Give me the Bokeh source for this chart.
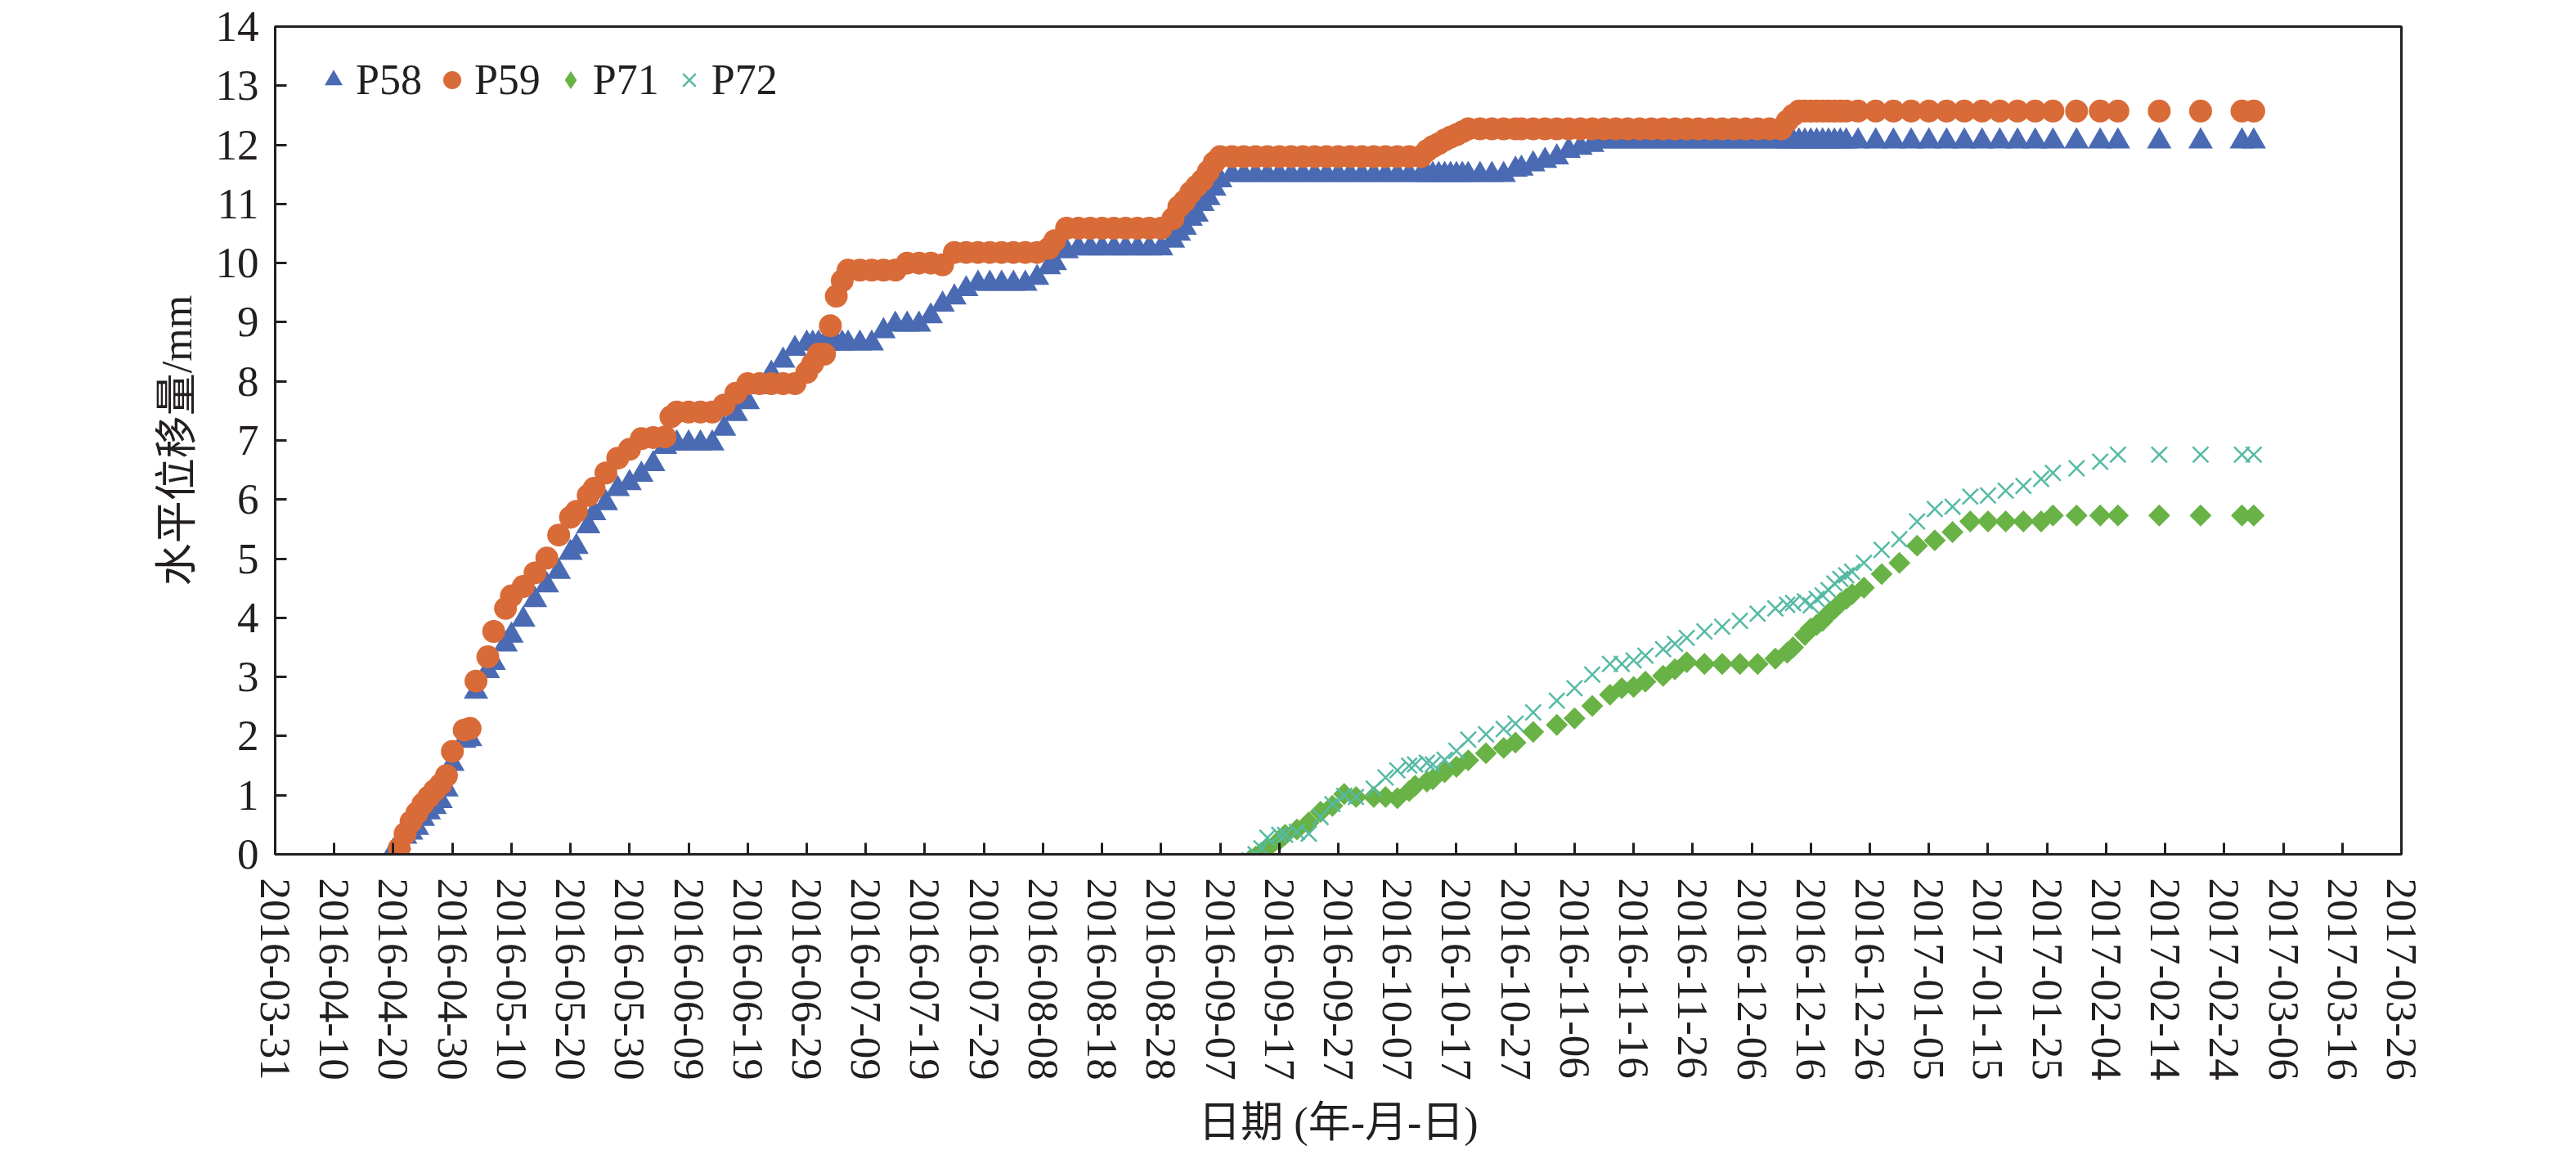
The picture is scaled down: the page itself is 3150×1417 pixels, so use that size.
from datetime import datetime, timedelta
from bokeh.plotting import figure
from bokeh.models import Range1d, FixedTicker, DatetimeTickFormatter, Legend, LegendItem
from bokeh.embed import file_html
from bokeh.resources import INLINE

# ---------------- data (day offsets from 2016-03-31) ----------------
origin = "2016-03-31"
x_end = "2017-03-26"

days_a = [20, 21, 22, 23, 24, 25, 26, 27, 28, 29, 30, 32, 33, 34, 36, 37, 39, 40, 42, 44,
          46, 48, 50, 51, 53, 54, 56, 58, 60, 62, 64, 66, 67, 68, 70, 72, 74, 76, 78, 80,
          82, 84, 86, 88, 90, 91, 92, 93, 94, 95, 96, 97, 99, 101, 103, 105, 107, 109, 111, 113,
          115, 117, 119, 121, 123, 125, 127, 129, 131, 132, 134, 136, 138, 140, 142, 144, 146, 148, 150, 152,
          153, 154, 155, 156, 157, 158, 159, 160, 162, 164, 166, 168, 170, 172, 174, 176, 178, 180, 182, 184,
          186, 188, 190, 192, 194, 195, 196, 197, 198, 199, 200, 201, 202, 204, 206, 208, 210, 211, 213, 215,
          217, 219, 221, 223, 225, 227, 229, 231, 233, 235, 237, 239, 241, 243, 245, 247, 249, 251, 253, 255,
          256, 257, 258, 259, 260, 261, 262, 263, 264, 265, 266, 268, 271, 274, 277, 280, 283, 286, 289, 292,
          295, 298, 301, 305, 309, 312, 319, 326, 333, 335]

p58 = [0.05, 0.20, 0.30, 0.37, 0.45, 0.60, 0.71, 0.80, 0.90, 1.10, 1.53, 1.92, 1.95, 2.75, 3.10, 3.24, 3.55, 3.70, 3.97, 4.30,
       4.55, 4.78, 5.10, 5.20, 5.55, 5.77, 5.94, 6.18, 6.28, 6.42, 6.60, 6.89, 6.95, 6.95, 6.95, 6.95, 6.95, 7.20, 7.45, 7.65,
       7.90, 8.13, 8.35, 8.55, 8.64, 8.64, 8.64, 8.64, 8.64, 8.64, 8.64, 8.64, 8.64, 8.64, 8.85, 8.96, 8.96, 8.96, 9.10, 9.30,
       9.42, 9.56, 9.65, 9.65, 9.65, 9.65, 9.65, 9.75, 9.93, 10.00, 10.20, 10.25, 10.25, 10.25, 10.25, 10.25, 10.25, 10.25, 10.25, 10.38,
       10.50, 10.60, 10.75, 10.82, 11.00, 11.10, 11.26, 11.40, 11.49, 11.49, 11.49, 11.49, 11.49, 11.49, 11.49, 11.49, 11.49, 11.49, 11.49, 11.49,
       11.49, 11.49, 11.49, 11.49, 11.49, 11.49, 11.49, 11.49, 11.49, 11.49, 11.49, 11.49, 11.49, 11.49, 11.49, 11.49, 11.58, 11.60, 11.67, 11.73,
       11.79, 11.90, 11.95, 12.00, 12.06, 12.06, 12.06, 12.06, 12.06, 12.06, 12.06, 12.06, 12.06, 12.06, 12.06, 12.06, 12.06, 12.06, 12.06, 12.06,
       12.06, 12.06, 12.06, 12.06, 12.06, 12.06, 12.06, 12.06, 12.06, 12.06, 12.06, 12.06, 12.06, 12.06, 12.06, 12.06, 12.06, 12.06, 12.06, 12.06,
       12.06, 12.06, 12.06, 12.06, 12.06, 12.06, 12.06, 12.06, 12.06, 12.06]

p59 = [-0.15, 0.10, 0.35, 0.55, 0.70, 0.85, 0.97, 1.08, 1.18, 1.33, 1.74, 2.10, 2.13, 2.93, 3.34, 3.77, 4.16, 4.37, 4.53, 4.76,
       5.01, 5.40, 5.70, 5.80, 6.07, 6.19, 6.45, 6.70, 6.85, 7.03, 7.05, 7.06, 7.40, 7.48, 7.48, 7.48, 7.48, 7.60, 7.80, 7.96,
       7.96, 7.96, 7.96, 7.96, 8.15, 8.30, 8.46, 8.46, 8.94, 9.44, 9.70, 9.88, 9.88, 9.88, 9.88, 9.88, 10.00, 10.00, 10.00, 9.97,
       10.18, 10.18, 10.18, 10.18, 10.18, 10.18, 10.18, 10.18, 10.25, 10.38, 10.59, 10.59, 10.59, 10.59, 10.59, 10.59, 10.59, 10.59, 10.59, 10.75,
       10.95, 11.05, 11.19, 11.30, 11.40, 11.55, 11.70, 11.80, 11.80, 11.80, 11.80, 11.80, 11.80, 11.80, 11.80, 11.80, 11.80, 11.80, 11.80, 11.80,
       11.80, 11.80, 11.80, 11.80, 11.80, 11.90, 11.97, 12.02, 12.08, 12.13, 12.17, 12.22, 12.27, 12.27, 12.27, 12.27, 12.27, 12.27, 12.27, 12.27,
       12.27, 12.27, 12.27, 12.27, 12.27, 12.27, 12.27, 12.27, 12.27, 12.27, 12.27, 12.27, 12.27, 12.27, 12.27, 12.27, 12.27, 12.27, 12.27, 12.27,
       12.40, 12.50, 12.57, 12.57, 12.57, 12.57, 12.57, 12.57, 12.57, 12.57, 12.57, 12.57, 12.57, 12.57, 12.57, 12.57, 12.57, 12.57, 12.57, 12.57,
       12.57, 12.57, 12.57, 12.57, 12.57, 12.57, 12.57, 12.57, 12.57, 12.57]

days_b = [165, 166, 167, 168, 170, 171, 173, 175, 177, 179, 181, 183, 186, 188, 190, 192, 193, 195, 196, 198,
          200, 202, 205, 208, 210, 213, 217, 220, 223, 226, 228, 230, 232, 235, 237, 239, 242, 245, 248, 251,
          254, 256, 257, 259, 260, 261, 262, 263, 264, 265, 266, 267, 269, 272, 275, 278, 281, 284, 287, 290,
          293, 296, 299, 301, 305, 309, 312, 319, 326, 333, 335]

p71 = [-0.10, -0.04, 0.03, 0.10, 0.24, 0.33, 0.42, 0.54, 0.72, 0.82, 1.02, 0.97, 0.97, 0.97, 0.95, 1.07, 1.16, 1.23, 1.27, 1.39,
       1.48, 1.59, 1.71, 1.80, 1.89, 2.07, 2.19, 2.30, 2.51, 2.70, 2.81, 2.83, 2.92, 3.02, 3.13, 3.25, 3.22, 3.22, 3.22, 3.22,
       3.31, 3.41, 3.50, 3.71, 3.82, 3.88, 3.95, 4.07, 4.15, 4.25, 4.32, 4.40, 4.51, 4.74, 4.93, 5.22, 5.31, 5.45, 5.63, 5.63,
       5.63, 5.63, 5.63, 5.73, 5.73, 5.73, 5.73, 5.73, 5.73, 5.73, 5.73]

p72 = [-0.10, 0.00, 0.10, 0.28, 0.33, 0.33, 0.38, 0.35, 0.63, 0.85, 0.99, 0.97, 1.11, 1.30, 1.42, 1.50, 1.52, 1.55, 1.52, 1.60,
       1.75, 1.94, 2.03, 2.12, 2.21, 2.40, 2.60, 2.81, 3.04, 3.22, 3.22, 3.28, 3.36, 3.47, 3.56, 3.66, 3.77, 3.85, 3.95, 4.07,
       4.16, 4.22, 4.25, 4.28, 4.21, 4.32, 4.38, 4.47, 4.58, 4.66, 4.72, 4.78, 4.93, 5.15, 5.33, 5.63, 5.84, 5.88, 6.05, 6.07,
       6.15, 6.23, 6.35, 6.45, 6.53, 6.64, 6.76, 6.76, 6.76, 6.76, 6.76]

series_names = ["P58", "P59", "P71", "P72"]
x_tick_labels = ["2016-03-31", "2016-04-10", "2016-04-20", "2016-04-30", "2016-05-10", "2016-05-20",
                 "2016-05-30", "2016-06-09", "2016-06-19", "2016-06-29", "2016-07-09", "2016-07-19",
                 "2016-07-29", "2016-08-08", "2016-08-18", "2016-08-28", "2016-09-07", "2016-09-17",
                 "2016-09-27", "2016-10-07", "2016-10-17", "2016-10-27", "2016-11-06", "2016-11-16",
                 "2016-11-26", "2016-12-06", "2016-12-16", "2016-12-26", "2017-01-05", "2017-01-15",
                 "2017-01-25", "2017-02-04", "2017-02-14", "2017-02-24", "2017-03-06", "2017-03-16",
                 "2017-03-26"]
y_ticks = [0, 1, 2, 3, 4, 5, 6, 7, 8, 9, 10, 11, 12, 13, 14]

assert len(days_a) == len(p58) == len(p59)
assert len(days_b) == len(p71) == len(p72)

# ---------------- figure ----------------
t0 = datetime.strptime(origin, "%Y-%m-%d")
t1 = datetime.strptime(x_end, "%Y-%m-%d")
xa = [t0 + timedelta(days=d) for d in days_a]
xb = [t0 + timedelta(days=d) for d in days_b]

def ms(dt):
    return (dt - datetime(1970, 1, 1)).total_seconds() * 1000.0

SERIF = "'Liberation Serif'"
CJK = "'Liberation Serif', 'Noto Sans CJK SC'"

p = figure(width=3134, height=1415, x_axis_type="datetime",
           output_backend="svg", toolbar_location=None,
           x_range=Range1d(t0, t1), y_range=Range1d(0, 14),
           min_border_left=336, min_border_right=198,
           min_border_top=32, min_border_bottom=371)

p.background_fill_color = "white"
p.border_fill_color = "white"
p.outline_line_color = "#231f20"
p.outline_line_width = 3
p.grid.visible = False

c58, c59, c71, c72 = "#4A6AB3", "#D96B38", "#68B246", "#54BAA4"

r58 = p.scatter(xa, p58, marker="triangle", size=30, fill_color=c58, line_color=c58, line_width=0)
r59 = p.scatter(xa, p59, marker="circle", size=28, fill_color=c59, line_color=c59, line_width=0)
r71 = p.scatter(xb, p71, marker="square", angle=0.785398, size=19, fill_color=c71, line_color=c71, line_width=0)
r72 = p.scatter(xb, p72, marker="x", size=27, line_color=c72, line_width=2.5)
# hidden twin of P71 used only as its legend key (the legend ignores marker angle)
r71_key = p.scatter(xb, p71, marker="diamond", size=24, fill_color=c71, line_color=c71,
                    line_width=0, visible=False)

# axes
tick_ms = [ms(datetime.strptime(s, "%Y-%m-%d")) for s in x_tick_labels]
p.xaxis.ticker = FixedTicker(ticks=tick_ms)
fmt = "%Y-%m-%d"
p.xaxis.formatter = DatetimeTickFormatter(days=fmt, months=fmt, years=fmt, hours=fmt,
                                          minutes=fmt, hourmin=fmt, seconds=fmt,
                                          minsec=fmt, milliseconds=fmt, microseconds=fmt,
                                          context=None)
p.yaxis.ticker = FixedTicker(ticks=y_ticks)

for ax in (p.xaxis[0], p.yaxis[0]):
    ax.axis_line_color = "#231f20"
    ax.axis_line_width = 3
    ax.major_tick_line_color = "#231f20"
    ax.major_tick_line_width = 3
    ax.major_tick_in = 14
    ax.major_tick_out = 0
    ax.minor_tick_line_color = None
    ax.major_label_text_font = SERIF
    ax.major_label_text_font_size = "53px"
    ax.major_label_text_color = "#231f20"
    ax.axis_label_text_font = CJK
    ax.axis_label_text_font_size = "52px"
    ax.axis_label_text_font_style = "normal"
    ax.axis_label_text_color = "#231f20"

p.xaxis.major_label_orientation = "vertical"
p.xaxis.major_label_standoff = 29
p.xaxis.axis_label = "日期 (年-月-日)"
p.xaxis.axis_label_standoff = 20

p.yaxis.major_label_standoff = 20
p.yaxis.axis_label = "水平位移量/mm"
p.yaxis.axis_label_standoff = 16

legend = Legend(items=[LegendItem(label=series_names[0], renderers=[r58]),
                       LegendItem(label=series_names[1], renderers=[r59]),
                       LegendItem(label=series_names[2], renderers=[r71_key]),
                       LegendItem(label=series_names[3], renderers=[r72])],
                orientation="horizontal", location=(44, 917),
                glyph_width=55, glyph_height=55, label_standoff=0, spacing=9,
                padding=10, margin=0, border_line_color=None,
                background_fill_alpha=0, inactive_fill_alpha=0,
                label_text_font=SERIF, label_text_font_size="52px",
                label_text_color="#231f20")
p.add_layout(legend)

open("out.html", "w").write(file_html(p, INLINE))
